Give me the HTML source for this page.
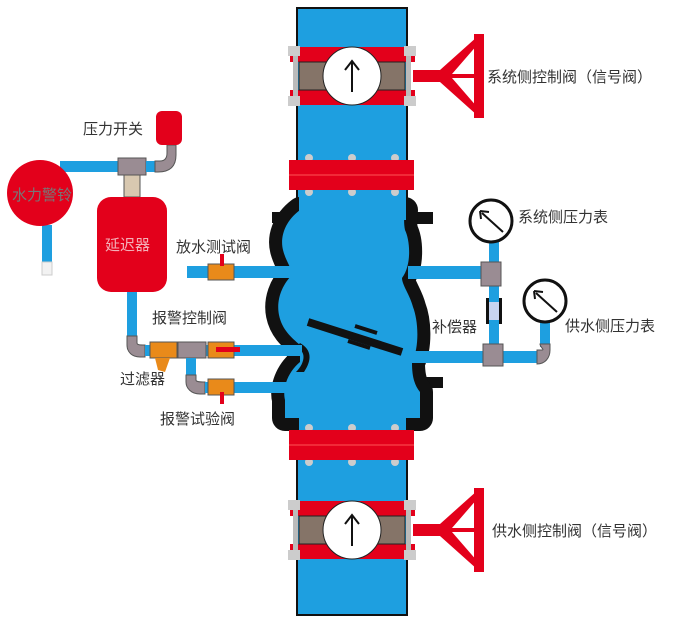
<!DOCTYPE html>
<html><head><meta charset="utf-8"><style>
body{margin:0;background:#fff;}
svg{display:block}
text{font-family:"Liberation Sans","Noto Sans CJK SC",sans-serif;font-size:15px;fill:#333}
</style></head><body>
<svg width="700" height="629" viewBox="0 0 700 629" xmlns="http://www.w3.org/2000/svg">
<defs>
<g id="valve">
 <rect x="290" y="-29" width="125" height="15" fill="#e3001b"/>
 <rect x="290" y="14" width="125" height="15" fill="#e3001b"/>
 <rect x="299" y="-14" width="106" height="28" fill="#857468" stroke="#222" stroke-width="1"/>
 <rect x="293" y="-28" width="5" height="56" fill="#bbb"/>
 <rect x="406" y="-28" width="5" height="56" fill="#bbb"/>
 <rect x="288" y="-30" width="12" height="10" fill="#ccc"/><rect x="288" y="20" width="12" height="10" fill="#ccc"/>
 <rect x="404" y="-30" width="12" height="10" fill="#ccc"/><rect x="404" y="20" width="12" height="10" fill="#ccc"/>
 <circle cx="352" cy="0" r="29" fill="#fff" stroke="#222" stroke-width="1"/>
 <line x1="352" y1="16" x2="352" y2="-14" stroke="#111" stroke-width="2"/>
 <path d="M345,-6 L352,-15 L359,-6" fill="none" stroke="#111" stroke-width="2"/>
 <rect x="413" y="-6" width="35" height="12" fill="#e3001b"/>
 <path d="M440,-6 L478,-40 L478,-32 L452,-2 L478,-2 L478,2 L452,2 L478,32 L478,40 L440,6Z" fill="#e3001b"/>
 <rect x="474" y="-42" width="10" height="84" fill="#e3001b"/>
</g>
<g id="flange">
 <circle cx="309" cy="-2" r="4" fill="#ccc"/><circle cx="352" cy="-2" r="4" fill="#ccc"/><circle cx="395" cy="-2" r="4" fill="#ccc"/>
 <circle cx="309" cy="32" r="4" fill="#ccc"/><circle cx="352" cy="32" r="4" fill="#ccc"/><circle cx="395" cy="32" r="4" fill="#ccc"/>
 <rect x="289" y="0" width="125" height="30" fill="#e3001b"/>
 <line x1="289" y1="15" x2="414" y2="15" stroke="#f55" stroke-width="1"/>
</g>
<path id="body" d="M300,210 C284,222 280,238 283,250 C286,262 292,268 292,275 C282,285 276,300 279,315 C282,330 292,338 300,345 L300,362 C288,372 282,388 285,400 L285,418 L420,418 L420,392 C414,385 412,375 412,363 C420,345 418,320 413,307 C410,295 402,285 402,278 C412,265 410,240 405,230 C403,220 405,212 405,210 Z"/>
</defs>
<!-- main pipe -->
<rect x="297" y="8" width="110" height="607" fill="#1e9fe0" stroke="#111" stroke-width="2"/>
<!-- body -->
<rect x="272" y="212" width="44" height="11" fill="#111"/>
<rect x="397" y="212" width="36" height="12" fill="#111"/>
<rect x="405" y="377" width="38" height="11" fill="#111"/>
<use href="#body" fill="#111" stroke="#111" stroke-width="26" stroke-linejoin="round"/>
<use href="#body" fill="#1e9fe0"/>
<rect x="299" y="190" width="107" height="30" fill="#1e9fe0"/>
<rect x="299" y="410" width="107" height="22" fill="#1e9fe0"/>
<path d="M296,348 C306,350 306,362 296,372 L304,372 C312,360 312,350 300,343Z" fill="#111"/>
<!-- clapper -->
<line x1="308" y1="322" x2="402" y2="352" stroke="#111" stroke-width="8"/>
<line x1="355" y1="326" x2="377" y2="333" stroke="#111" stroke-width="4"/>
<line x1="348" y1="341" x2="370" y2="348" stroke="#111" stroke-width="4"/>
<!-- flanges & valves -->
<use href="#flange" transform="translate(0,160)"/>
<use href="#flange" transform="translate(0,430)"/>
<use href="#valve" transform="translate(0,76)"/>
<use href="#valve" transform="translate(0,530)"/>
<!-- left: alarm bell -->
<rect x="42" y="225" width="10" height="40" fill="#1e9fe0"/>
<rect x="42" y="262" width="10" height="13" fill="#f2f2f2" stroke="#ccc"/>
<rect x="60" y="161" width="60" height="11" fill="#1e9fe0"/>
<circle cx="40" cy="193" r="33" fill="#e3001b"/>
<text x="12" y="200" style="fill:#777">水力警铃</text>
<!-- tee -->
<rect x="118" y="158" width="28" height="17" fill="#9a8c93" stroke="#555" stroke-width="1"/>
<rect x="124" y="175" width="16" height="22" fill="#d8c8b0" stroke="#555" stroke-width="1"/>
<rect x="146" y="161" width="10" height="11" fill="#1e9fe0"/>
<path d="M155,161 L160,161 C165,161 167,158 167,153 L167,145 L176,145 L176,155 C176,166 170,172 158,172 L155,172Z" fill="#9a8c93" stroke="#555" stroke-width="1"/>
<rect x="156" y="111" width="26" height="34" rx="6" fill="#e3001b"/>
<text x="83" y="134">压力开关</text>
<!-- delay -->
<rect x="97" y="197" width="70" height="95" rx="14" fill="#e3001b"/>
<text x="105" y="250" style="fill:#f3b0b8">延迟器</text>
<rect x="127" y="292" width="10" height="48" fill="#1e9fe0"/>
<path d="M127,336 L137,336 L137,343 C137,345 140,345 145,345 L145,357 L140,357 C132,357 127,352 127,345Z" fill="#9a8c93" stroke="#555" stroke-width="1"/>
<!-- alarm line -->
<rect x="145" y="345" width="157" height="11" fill="#1e9fe0"/>
<rect x="150" y="342" width="27" height="16" fill="#e98a1a" stroke="#555" stroke-width="1"/>
<path d="M155,358 L170,358 L165,372 L158,370Z" fill="#e98a1a"/>
<rect x="178" y="342" width="28" height="16" fill="#9a8c93" stroke="#555" stroke-width="1"/>
<rect x="208" y="342" width="26" height="16" fill="#e98a1a" stroke="#555" stroke-width="1"/>
<rect x="216" y="347" width="24" height="5" fill="#e3001b"/>
<rect x="186" y="358" width="10" height="20" fill="#1e9fe0"/>
<path d="M186,375 L196,375 L196,380 C196,382 200,382 205,382 L205,394 L200,394 C191,394 186,388 186,382Z" fill="#9a8c93" stroke="#555" stroke-width="1"/>
<rect x="205" y="382" width="90" height="11" fill="#1e9fe0"/>
<rect x="208" y="379" width="26" height="16" fill="#e98a1a" stroke="#555" stroke-width="1"/>
<rect x="220" y="392" width="4" height="12" fill="#e3001b"/>
<!-- drain test -->
<rect x="187" y="266" width="110" height="12" fill="#1e9fe0"/>
<rect x="208" y="264" width="26" height="16" fill="#e98a1a" stroke="#555" stroke-width="1"/>
<rect x="220" y="254" width="4" height="12" fill="#e3001b"/>
<text x="176" y="252">放水测试阀</text>
<text x="152" y="323">报警控制阀</text>
<text x="120" y="384">过滤器</text>
<text x="160" y="424">报警试验阀</text>
<!-- right gauges -->
<rect x="408" y="266" width="75" height="13" fill="#1e9fe0"/>
<rect x="408" y="351" width="132" height="12" fill="#1e9fe0"/>
<rect x="489" y="240" width="10" height="112" fill="#1e9fe0"/>
<rect x="481" y="262" width="20" height="24" fill="#9a8c93" stroke="#555" stroke-width="1"/>
<rect x="486" y="302" width="16" height="18" fill="#c8d4f0"/>
<rect x="486" y="298" width="3" height="26" fill="#111"/><rect x="499" y="298" width="3" height="26" fill="#111"/>
<rect x="483" y="344" width="20" height="22" fill="#9a8c93" stroke="#555" stroke-width="1"/>
<rect x="540" y="322" width="10" height="25" fill="#1e9fe0"/>
<path d="M537,350 L542,350 C545,350 540,347 540,344 L550,344 L550,350 C550,358 545,364 537,364Z" fill="#9a8c93" stroke="#555" stroke-width="1"/>
<circle cx="491" cy="221" r="21" fill="#fff" stroke="#111" stroke-width="3"/>
<line x1="503" y1="232" x2="482" y2="213" stroke="#111" stroke-width="2"/><path d="M480,211 L489,212 M480,211 L481,219" stroke="#111" stroke-width="2"/>
<circle cx="545" cy="301" r="21" fill="#fff" stroke="#111" stroke-width="3"/>
<line x1="557" y1="312" x2="536" y2="293" stroke="#111" stroke-width="2"/><path d="M534,291 L543,292 M534,291 L535,299" stroke="#111" stroke-width="2"/>
<text x="518" y="222">系统侧压力表</text>
<text x="565" y="331">供水侧压力表</text>
<text x="432" y="332">补偿器</text>
<text x="487" y="82">系统侧控制阀（信号阀）</text>
<text x="492" y="536">供水侧控制阀（信号阀）</text>
</svg>
</body></html>
